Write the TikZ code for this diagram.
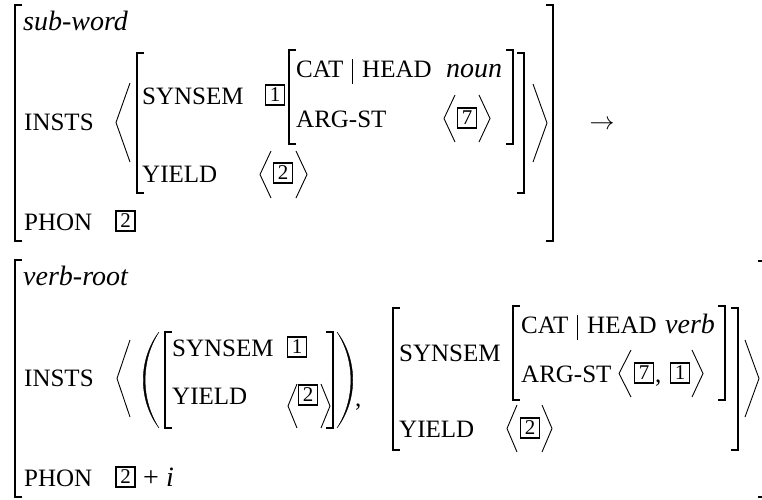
\documentclass[tikz,border=0pt]{standalone}
\usepackage{fontspec}
\setmainfont{Liberation Serif}
\newcommand\avmLB[3]{\draw[brk] ({#1+7},#2) -- (#1,#2) -- (#1,#3) -- ({#1+7},#3);}
\newcommand\avmRB[3]{\draw[brk] ({#1-7},#2) -- (#1,#2) -- (#1,#3) -- ({#1-7},#3);}
\newcommand\avmLA[4]{\draw[ang] ({#1+#4},#2) -- (#1,{(#2+#3)/2}) -- ({#1+#4},#3);}
\newcommand\avmRA[4]{\draw[ang] ({#1-#4},#2) -- (#1,{(#2+#3)/2}) -- ({#1-#4},#3);}
\begin{document}
\begin{tikzpicture}[x=1pt,y=-1pt,
  attr/.style={anchor=base west, inner sep=0pt, font=\fontsize{25}{30}\selectfont},
  sym/.style={anchor=base west, inner sep=0pt, font=\fontsize{28}{32}\selectfont},
  typ/.style={anchor=base west, inner sep=0pt, font=\fontsize{28}{32}\selectfont\itshape},
  tag/.style={draw, line width=1.8pt, minimum width=19pt, minimum height=20pt, inner sep=0pt, font=\fontsize{21}{21}\selectfont},
  brk/.style={line width=1.6pt},
  ang/.style={line width=0.9pt},
  bar/.style={line width=0.9pt},
  paren/.style={fill=black, draw=black, line width=0.4pt}]
\useasboundingbox (0,0) rectangle (762,499);
% ---------- top AVM ----------
\avmLB{15}{5}{241}
\avmRB{553}{5}{241}
\node[typ] (subword) at (23,30) {sub-word};
\node[attr] (insts1) at (24,130) {INSTS};
\node[attr] (phon1) at (24,230) {PHON};
\node[tag] (p1tag) at (125.5,221) {2};
\avmLA{116}{83}{162}{14}
\avmRA{547}{84}{162}{14}
\avmLB{137}{53}{193}
\avmRB{524}{53}{193}
\node[attr] (syn1) at (142,104) {SYNSEM};
\node[tag] (s1tag) at (275,95) {1};
\avmLB{289}{50}{144}
\avmRB{513}{50}{144}
\node[attr] (cat1) at (296,77) {CAT};
\draw[bar] (352,59) -- (352,84);
\node[attr] (head1) at (362,77) {HEAD};
\node[typ] (noun) at (446,77) {noun};
\node[attr] (arg1) at (296,127) {ARG-ST};
\avmLA{444}{95}{142}{11}
\node[tag] (a7tag) at (467,118) {7};
\avmRA{490}{95}{142}{11}
\node[attr] (yield1) at (142,182) {YIELD};
\avmLA{260}{151}{198}{11}
\node[tag] (y1tag) at (283,173) {2};
\avmRA{307}{151}{198}{11}
\node[anchor=base, inner sep=0pt, font=\fontsize{25}{30}\selectfont] (arrow) at (602,129) {$\rightarrow$};
% ---------- bottom AVM ----------
\draw[brk] (22,260) -- (15,260) -- (15,497) -- (22,497);
\draw[brk] (758,261) -- (764,261) -- (764,497) -- (758,497);
\node[typ] (verbroot) at (23,285) {verb-root};
\node[attr] (insts2) at (24,386) {INSTS};
\node[attr] (phon2) at (24,486) {PHON};
\node[tag] (p2tag) at (125.5,477) {2};
\node[sym] (plus) at (143,486) {+};
\node[typ] (ivar) at (166,486) {i};
\avmLA{117}{340}{417}{13}
\avmRA{759}{340}{417}{14}
% first element
\path[paren] (159,332) .. controls (138,360) and (138,400) .. (159,428)
  .. controls (140.5,400) and (140.5,360) .. (159,332) -- cycle;
\avmLB{165}{332}{428}
\node[attr] (syn2) at (172,356) {SYNSEM};
\node[tag] (s2tag) at (297,347) {1};
\node[attr] (yield2) at (172,404) {YIELD};
\avmLA{288}{384}{428}{9}
\node[tag] (y2tag) at (308,395) {2};
\avmRA{330}{384}{428}{9}
\avmRB{333}{332}{428}
\path[paren] (337,332) .. controls (358,360) and (358,400) .. (337,428)
  .. controls (355.5,400) and (355.5,360) .. (337,332) -- cycle;
\node[attr] (comma1) at (355,406) {,};
% second element
\avmLB{393}{308}{450}
\avmRB{738}{308}{450}
\node[attr] (syn3) at (399,361) {SYNSEM};
\avmLB{513}{306}{400}
\avmRB{725}{306}{400}
\node[attr] (cat2) at (521,333) {CAT};
\draw[bar] (577,315) -- (577,340);
\node[attr] (head2) at (587,333) {HEAD};
\node[typ] (verb) at (665,333) {verb};
\node[attr] (arg2) at (521,382) {ARG-ST};
\avmLA{619}{350}{397}{12}
\node[tag] (a7tag2) at (644,373) {7};
\node[attr] (comma2) at (655,382) {,};
\node[tag] (a1tag2) at (680,373) {1};
\avmRA{703}{350}{397}{11}
\node[attr] (yield3) at (399,437) {YIELD};
\avmLA{507}{405}{452}{10}
\node[tag] (y3tag) at (530,428) {2};
\avmRA{552}{405}{452}{10}
\end{tikzpicture}
\end{document}
